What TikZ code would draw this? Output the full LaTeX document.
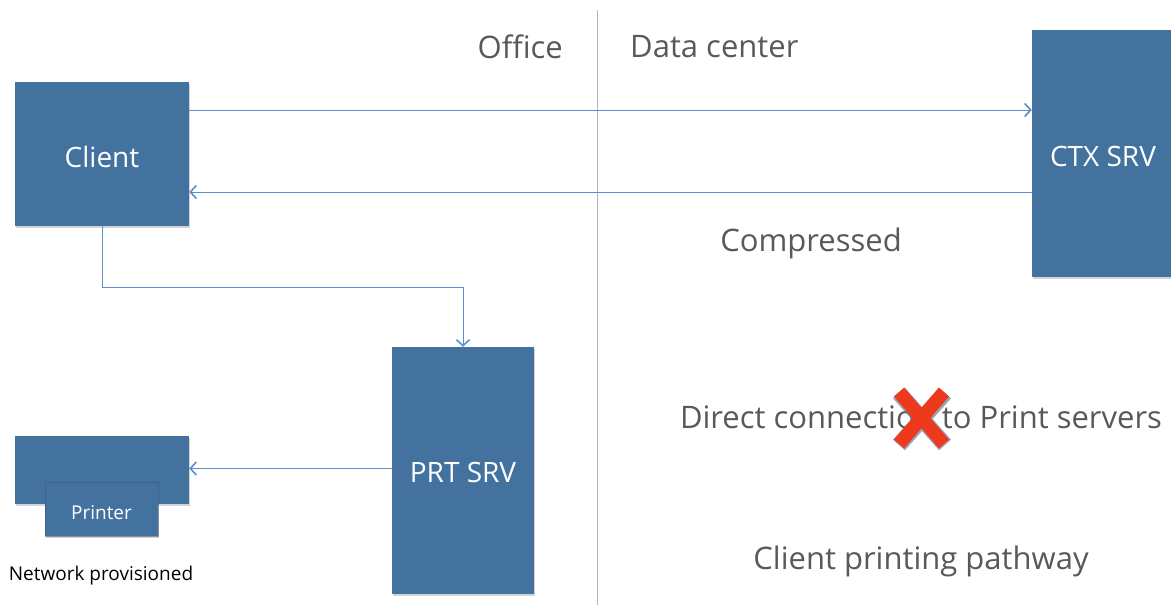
\documentclass[tikz,border=0pt]{standalone}
\usepackage{fontspec}
\setmainfont{Open Sans}
\usetikzlibrary{arrows.meta,shadows}
\definecolor{boxblue}{HTML}{44729F}
\definecolor{arrblue}{HTML}{5B8FCB}
\definecolor{divgrey}{HTML}{A9B7C6}
\definecolor{txtgrey}{HTML}{595959}
\definecolor{xred}{HTML}{EE3A1C}
\definecolor{xedge}{HTML}{6F7FA0}
\tikzset{
  blk/.style={fill=boxblue, draw=none, inner sep=0pt, text=white,
    drop shadow={shadow xshift=1pt, shadow yshift=-1.5pt, opacity=0.35}},
  arr/.style={draw=arrblue, line width=1pt, -{Straight Barb[length=6pt,width=13pt,line width=1.6pt]}},
  lbl/.style={text=txtgrey, inner sep=0pt, font=\fontsize{31}{36}\selectfont},
  boxtxt/.style={font=\fontsize{28}{32}\selectfont},
}
\begin{document}
\begin{tikzpicture}[x=1pt,y=-1pt]
\useasboundingbox (0,0) rectangle (1171,605);
\clip (0,0) rectangle (1171,605);
% divider
\draw[divgrey, line width=1pt] (597,10) -- (597,605);
% boxes
\node[blk, boxtxt, minimum width=174pt, minimum height=144pt] (client) at (102,154) {\raisebox{-13pt}[0pt][0pt]{Client}};
\node[blk, boxtxt, minimum width=142pt, minimum height=247pt] (ctx) at (1103,153.5) {\raisebox{-13pt}[0pt][0pt]{CTX SRV}};
\node[blk, boxtxt, minimum width=142pt, minimum height=247pt] (prt) at (463,470.5) {\raisebox{-11.5pt}[0pt][0pt]{PRT SRV}};
\node[blk, minimum width=174pt, minimum height=68pt] (pback) at (102,470) {};
\node[blk, draw=boxblue!75!black, draw opacity=0.5, line width=0.8pt, minimum width=113pt, minimum height=54pt, font=\fontsize{19}{22}\selectfont] (printer) at (101.5,509) {\raisebox{-10pt}[0pt][0pt]{Printer}};
% labels
\node[lbl, anchor=east] (office) at (563,47) {Office};
\node[lbl, anchor=west] (dc) at (630,47) {Data center};
\node[lbl] (comp) at (811,243) {Compressed};
\node[lbl] (direct) at (921,417) {Direct connection to Print servers};
\node[lbl] (path) at (921,561) {Client printing pathway};
\node[text=black, inner sep=0pt, font=\fontsize{19}{22}\selectfont] (net) at (101,576) {Network provisioned};
% connectors
\draw[arr] ([yshift=44pt]client.east) -- ([yshift=44pt]client.east -| ctx.west);
\draw[arr] ([yshift=-38pt]client.east -| ctx.west) -- ([yshift=-38pt]client.east);
\coordinate (bend) at (102,287);
\draw[arr] (client.south) -- (bend) -| (prt.north);
\draw[arr] ([yshift=2pt]prt.west) -- ([yshift=2pt]prt.west -| pback.east);
% red X
\begin{scope}[line cap=butt]
\draw[xedge, line width=16pt, opacity=0.7] (899,393) -- (945,445) (945,393) -- (899,445);
\draw[xred, line width=13.5pt] (899,392) -- (944,444) (944,392) -- (899,444);
\end{scope}
\end{tikzpicture}
\end{document}
